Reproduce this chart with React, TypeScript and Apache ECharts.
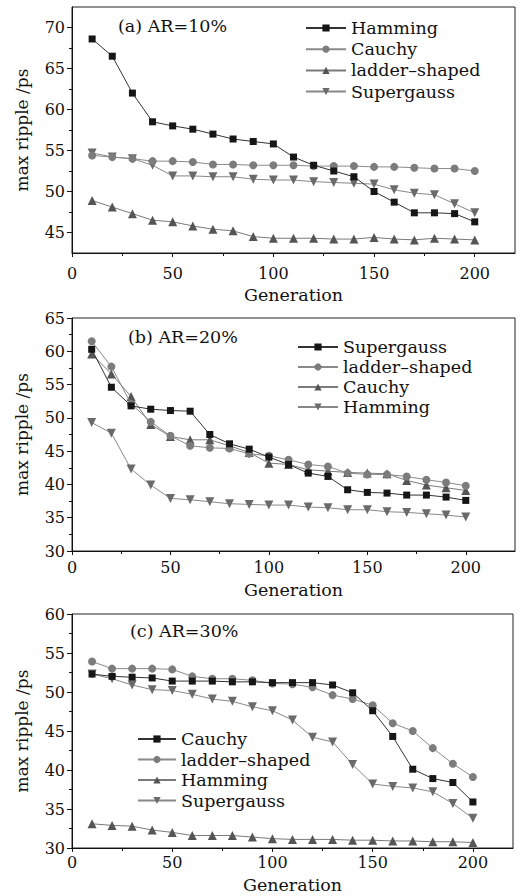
import React, { useEffect, useRef } from "react";
import * as echarts from "echarts";

// ---- data ----
const GENS = [10, 20, 30, 40, 50, 60, 70, 80, 90, 100, 110, 120, 130, 140, 150, 160, 170, 180, 190, 200];

// (a) AR=10%
const A_HAMMING = [68.6, 66.5, 62.0, 58.5, 58.0, 57.6, 57.0, 56.4, 56.1, 55.8, 54.2, 53.2, 52.5, 51.8, 50.0, 48.7, 47.4, 47.4, 47.3, 46.3];
const A_CAUCHY = [54.4, 54.2, 54.0, 53.7, 53.7, 53.6, 53.3, 53.3, 53.2, 53.2, 53.2, 53.1, 53.1, 53.1, 53.0, 53.0, 52.9, 52.8, 52.8, 52.5];
const A_LADDER = [48.9, 48.1, 47.3, 46.5, 46.3, 45.8, 45.4, 45.2, 44.5, 44.3, 44.3, 44.3, 44.2, 44.2, 44.4, 44.2, 44.1, 44.3, 44.2, 44.1];
const A_SUPER = [54.7, 54.2, 54.0, 53.2, 51.9, 51.9, 51.8, 51.8, 51.5, 51.4, 51.4, 51.2, 51.1, 51.0, 50.9, 50.2, 49.8, 49.6, 48.5, 47.4];

// (b) AR=20%
const B_SUPER = [60.3, 54.6, 51.8, 51.3, 51.1, 51.0, 47.5, 46.1, 45.3, 44.1, 43.0, 41.7, 41.2, 39.2, 38.8, 38.7, 38.4, 38.4, 38.1, 37.6];
const B_LADDER = [61.5, 57.7, 52.1, 49.4, 47.3, 45.8, 45.5, 45.4, 44.6, 44.3, 43.7, 43.0, 42.7, 41.7, 41.5, 41.5, 41.2, 40.7, 40.3, 39.8];
const B_CAUCHY = [59.6, 56.6, 53.2, 49.0, 47.2, 46.7, 46.7, 45.8, 44.8, 43.2, 43.0, 42.2, 42.0, 41.8, 41.7, 41.6, 40.6, 39.9, 39.5, 39.1];
const B_HAMMING = [49.3, 47.7, 42.3, 39.9, 37.9, 37.7, 37.4, 37.1, 37.0, 36.9, 36.9, 36.6, 36.5, 36.2, 36.2, 35.9, 35.8, 35.6, 35.4, 35.1];

// (c) AR=30%
const C_CAUCHY = [52.3, 52.0, 51.9, 51.8, 51.4, 51.4, 51.4, 51.3, 51.3, 51.2, 51.2, 51.2, 50.9, 49.9, 47.6, 44.3, 40.1, 38.9, 38.4, 35.9];
const C_LADDER = [53.9, 53.0, 53.0, 53.0, 52.9, 52.0, 51.7, 51.7, 51.5, 51.1, 51.0, 50.6, 49.6, 49.1, 48.3, 46.0, 45.0, 42.8, 40.8, 39.1];
const C_HAMMING = [33.1, 32.9, 32.8, 32.3, 32.0, 31.6, 31.6, 31.6, 31.4, 31.2, 31.1, 31.1, 31.1, 31.0, 31.0, 30.9, 30.9, 30.8, 30.8, 30.7];
const C_SUPER = [52.3, 51.7, 50.9, 50.3, 50.2, 49.7, 49.1, 48.8, 48.1, 47.6, 46.4, 44.2, 43.6, 40.7, 38.2, 37.9, 37.7, 37.2, 35.7, 33.8];

// tick labels
const X_TICKS = [0, 50, 100, 150, 200];
const X_MINOR = [25, 75, 125, 175];
const Y_TICKS_A = [45, 50, 55, 60, 65, 70];
const Y_MINOR_A = [47.5, 52.5, 57.5, 62.5, 67.5];
const Y_TICKS_B = [30, 35, 40, 45, 50, 55, 60, 65];
const Y_MINOR_B = [32.5, 37.5, 42.5, 47.5, 52.5, 57.5, 62.5];
const Y_TICKS_C = [30, 35, 40, 45, 50, 55, 60];
const Y_MINOR_C = [32.5, 37.5, 42.5, 47.5, 52.5, 57.5];

const PANEL_TITLES = ["(a) AR=10%", "(b) AR=20%", "(c) AR=30%"];
const NAMES_A = ["Hamming", "Cauchy", "ladder\u2013shaped", "Supergauss"];
const NAMES_B = ["Supergauss", "ladder\u2013shaped", "Cauchy", "Hamming"];
const NAMES_C = ["Cauchy", "ladder\u2013shaped", "Hamming", "Supergauss"];

const FONT = "'DejaVu Serif', 'Liberation Serif', serif";

const STYLES = [
  { symbol: "rect", size: 7, color: "#161616", line: "#333333", rotate: 0 },
  { symbol: "circle", size: 8, color: "#7c7c7c", line: "#8a8a8a", rotate: 0 },
  { symbol: "triangle", size: 9, color: "#555555", line: "#7a7a7a", rotate: 0 },
  { symbol: "triangle", size: 9, color: "#6a6a6a", line: "#888888", rotate: 180 },
];

export default function App() {
  const ref = useRef<HTMLDivElement>(null);

  useEffect(() => {
    if (!ref.current) return;
    const chart = echarts.init(ref.current, null, { renderer: "svg" });

    const panels = [
      {
        key: "a", names: NAMES_A, values: [A_HAMMING, A_CAUCHY, A_LADDER, A_SUPER],
        grid: { left: 72, right: 7, top: 7, height: 246 },
        xMax: 220, yMin: 42.5, yMax: 72.5, yTicks: Y_TICKS_A, yMinor: Y_MINOR_A,
        xMargin: 12, nameGap: 33,
        legend: { left: 305, top: 19, itemWidth: 40, itemGap: 3.2 },
        title: { x: 118, y: 27 },
      },
      {
        key: "b", names: NAMES_B, values: [B_SUPER, B_LADDER, B_CAUCHY, B_HAMMING],
        grid: { left: 72, right: 7, top: 318, height: 233 },
        xMax: 225, yMin: 30, yMax: 65, yTicks: Y_TICKS_B, yMinor: Y_MINOR_B,
        xMargin: 8, nameGap: 30,
        legend: { left: 297, top: 338, itemWidth: 40, itemGap: 2 },
        title: { x: 128, y: 338 },
      },
      {
        key: "c", names: NAMES_C, values: [C_CAUCHY, C_LADDER, C_HAMMING, C_SUPER],
        grid: { left: 72, right: 9, top: 614, height: 234 },
        xMax: 220, yMin: 30, yMax: 60, yTicks: Y_TICKS_C, yMinor: Y_MINOR_C,
        xMargin: 6, nameGap: 28,
        legend: { left: 137, top: 730, itemWidth: 38, itemGap: 2.5 },
        title: { x: 130, y: 632 },
      },
    ];

    const grid: any[] = [];
    const xAxis: any[] = [];
    const yAxis: any[] = [];
    const series: any[] = [];
    const legend: any[] = [];
    const graphic: any[] = [];

    panels.forEach((p, i) => {
      grid.push({ ...p.grid, show: true, borderColor: "#222", borderWidth: 1, backgroundColor: "transparent" });
      xAxis.push({
        type: "value", gridIndex: i, min: 0, max: p.xMax, position: "bottom",
        axisLine: { show: true, onZero: false, lineStyle: { color: "#111", width: 1 } },
        axisTick: { show: true, length: 4, inside: false, customValues: X_TICKS, lineStyle: { color: "#111" } },
        axisLabel: { customValues: X_TICKS, fontSize: 16, fontFamily: FONT, color: "#111", margin: p.xMargin },
        splitLine: { show: false },
        name: "Generation", nameLocation: "middle", nameGap: p.nameGap,
        nameTextStyle: { fontSize: 17.5, fontFamily: FONT, color: "#111" },
      });
      xAxis.push({
        type: "value", gridIndex: i, min: 0, max: p.xMax, position: "bottom",
        axisLine: { show: false },
        axisTick: { show: true, length: 3, customValues: X_MINOR, lineStyle: { color: "#111" } },
        axisLabel: { show: false },
        splitLine: { show: false },
      });
      yAxis.push({
        type: "value", gridIndex: i, min: p.yMin, max: p.yMax, position: "left",
        axisLine: { show: true, onZero: false, lineStyle: { color: "#111", width: 1 } },
        axisTick: { show: true, length: 5, customValues: p.yTicks, lineStyle: { color: "#111" } },
        axisLabel: { customValues: p.yTicks, fontSize: 16, fontFamily: FONT, color: "#111", margin: 7 },
        splitLine: { show: false },
        name: "max ripple /ps", nameLocation: "middle", nameGap: 42,
        nameTextStyle: { fontSize: 17, fontFamily: FONT, color: "#111" },
      });
      yAxis.push({
        type: "value", gridIndex: i, min: p.yMin, max: p.yMax, position: "left",
        axisLine: { show: false },
        axisTick: { show: true, length: 3, customValues: p.yMinor, lineStyle: { color: "#111" } },
        axisLabel: { show: false },
        splitLine: { show: false },
      });

      const legendData: string[] = [];
      p.names.forEach((nm, k) => {
        const st = STYLES[k];
        const id = p.key + ":" + nm;
        legendData.push(id);
        series.push({
          type: "line", name: id,
          xAxisIndex: i * 2, yAxisIndex: i * 2,
          data: GENS.map((g, j) => [g, p.values[k][j]]),
          symbol: st.symbol, symbolSize: st.size, symbolRotate: st.rotate,
          showAllSymbol: true,
          itemStyle: { color: st.color },
          lineStyle: { color: st.line, width: 1 },
          z: 10 - k,
        });
      });
      legend.push({
        data: legendData, orient: "vertical", left: p.legend.left, top: p.legend.top,
        itemWidth: p.legend.itemWidth, itemHeight: 9, itemGap: p.legend.itemGap, padding: 0,
        formatter: (n: string) => n.split(":")[1],
        textStyle: { fontSize: 17.5, fontFamily: FONT, color: "#111" },
        selectedMode: false,
      });
      graphic.push({
        type: "text", left: p.title.x, top: p.title.y - 10,
        style: { text: PANEL_TITLES[i], font: "17.5px " + FONT, fill: "#111" },
      });
    });

    chart.setOption({
      animation: false,
      backgroundColor: "#fff",
      grid, xAxis, yAxis, series, legend, graphic,
    });
    return () => chart.dispose();
  }, []);

  return (
    <div
      ref={ref}
      style={{ position: "fixed", left: 0, top: 0, width: 522, height: 896, background: "#fff" }}
    />
  );
}
